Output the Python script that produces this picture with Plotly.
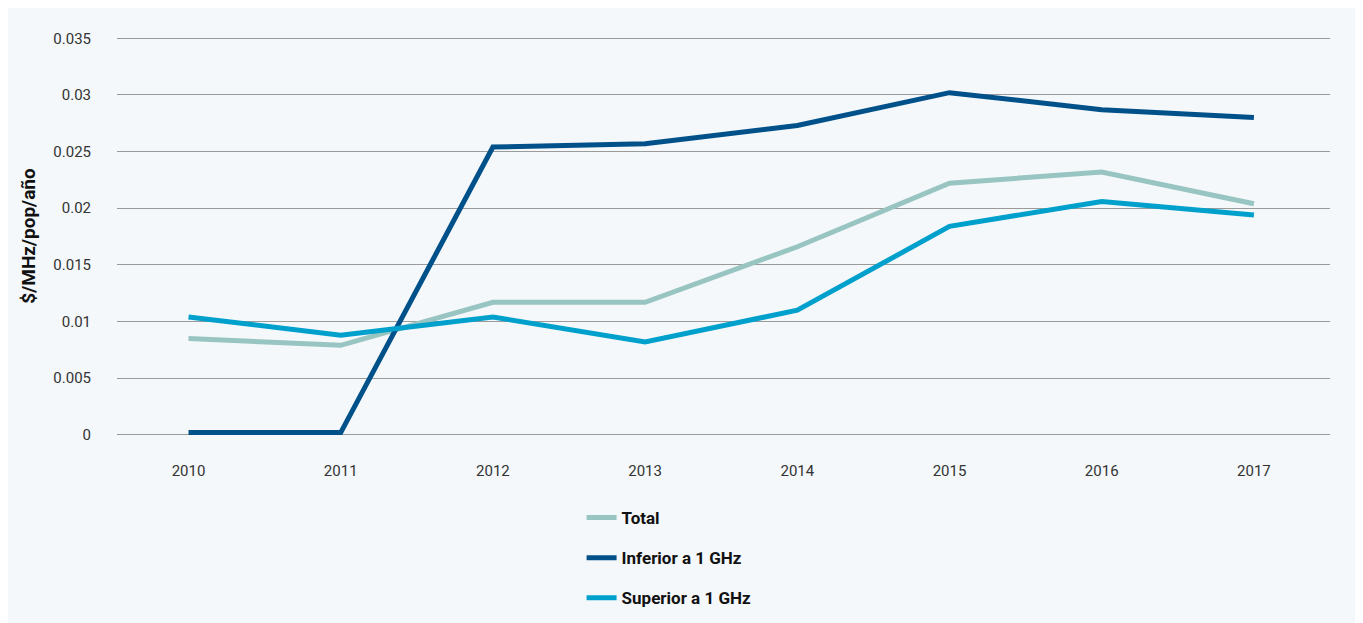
import plotly.graph_objects as go

years = ["2010", "2011", "2012", "2013", "2014", "2015", "2016", "2017"]
total = [0.0085, 0.0079, 0.0117, 0.0117, 0.0166, 0.0222, 0.0232, 0.0204]
inferior = [0.0002, 0.0002, 0.0254, 0.0257, 0.0273, 0.0302, 0.0287, 0.0280]
superior = [0.0104, 0.0088, 0.0104, 0.0082, 0.0110, 0.0184, 0.0206, 0.0194]
y_ticks = [0, 0.005, 0.01, 0.015, 0.02, 0.025, 0.03, 0.035]
y_labels = ["0", "0.005", "0.01", "0.015", "0.02", "0.025", "0.03", "0.035"]

series = [
    ("Total", total, "#98c4c1"),
    ("Inferior a 1 GHz", inferior, "#00508a"),
    ("Superior a 1 GHz", superior, "#00a0cd"),
]

fig = go.Figure()
for i, (name, vals, color) in enumerate(series):
    fig.add_trace(
        go.Scatter(
            x=years,
            y=vals,
            mode="lines",
            name=f"<b>{name}</b>",
            legendgroup=str(i),
            line=dict(color=color, width=5),
        )
    )

font_name = "Roboto"
tick_font = dict(family=font_name, size=15, color="#333333")

# page body has an 8px margin, so the figure is sized 8px smaller
fig.update_layout(
    width=1355,
    height=615,
    paper_bgcolor="#f4f8fa",
    plot_bgcolor="#f4f8fa",
    margin=dict(l=109, r=33, t=28, b=187),
    xaxis=dict(
        type="category",
        range=[-0.47, 7.5],
        showgrid=False,
        zeroline=False,
        showline=False,
        ticks="",
        tickfont=tick_font,
        ticklabelstandoff=24,
    ),
    yaxis=dict(
        # small pad so plotly keeps the 0 and 0.035 grid lines
        range=[-0.0001, 0.0352],
        tickvals=y_ticks,
        ticktext=y_labels,
        showgrid=True,
        gridcolor="#9a9a9a",
        gridwidth=1,
        zeroline=False,
        tickfont=tick_font,
        ticklabelstandoff=25,
        title=dict(
            text="<b>$/MHz/pop/año</b>",
            font=dict(family=font_name, size=19, color="#111111"),
            standoff=12,
        ),
    ),
    showlegend=True,
    legend=dict(
        orientation="v",
        x=0.383,
        y=0.2,
        yref="container",
        xanchor="left",
        yanchor="top",
        traceorder="grouped",
        tracegroupgap=15,
        bgcolor="rgba(0,0,0,0)",
        font=dict(family=font_name, size=17, color="#111111"),
    ),
)

fig.write_html("out.html")
